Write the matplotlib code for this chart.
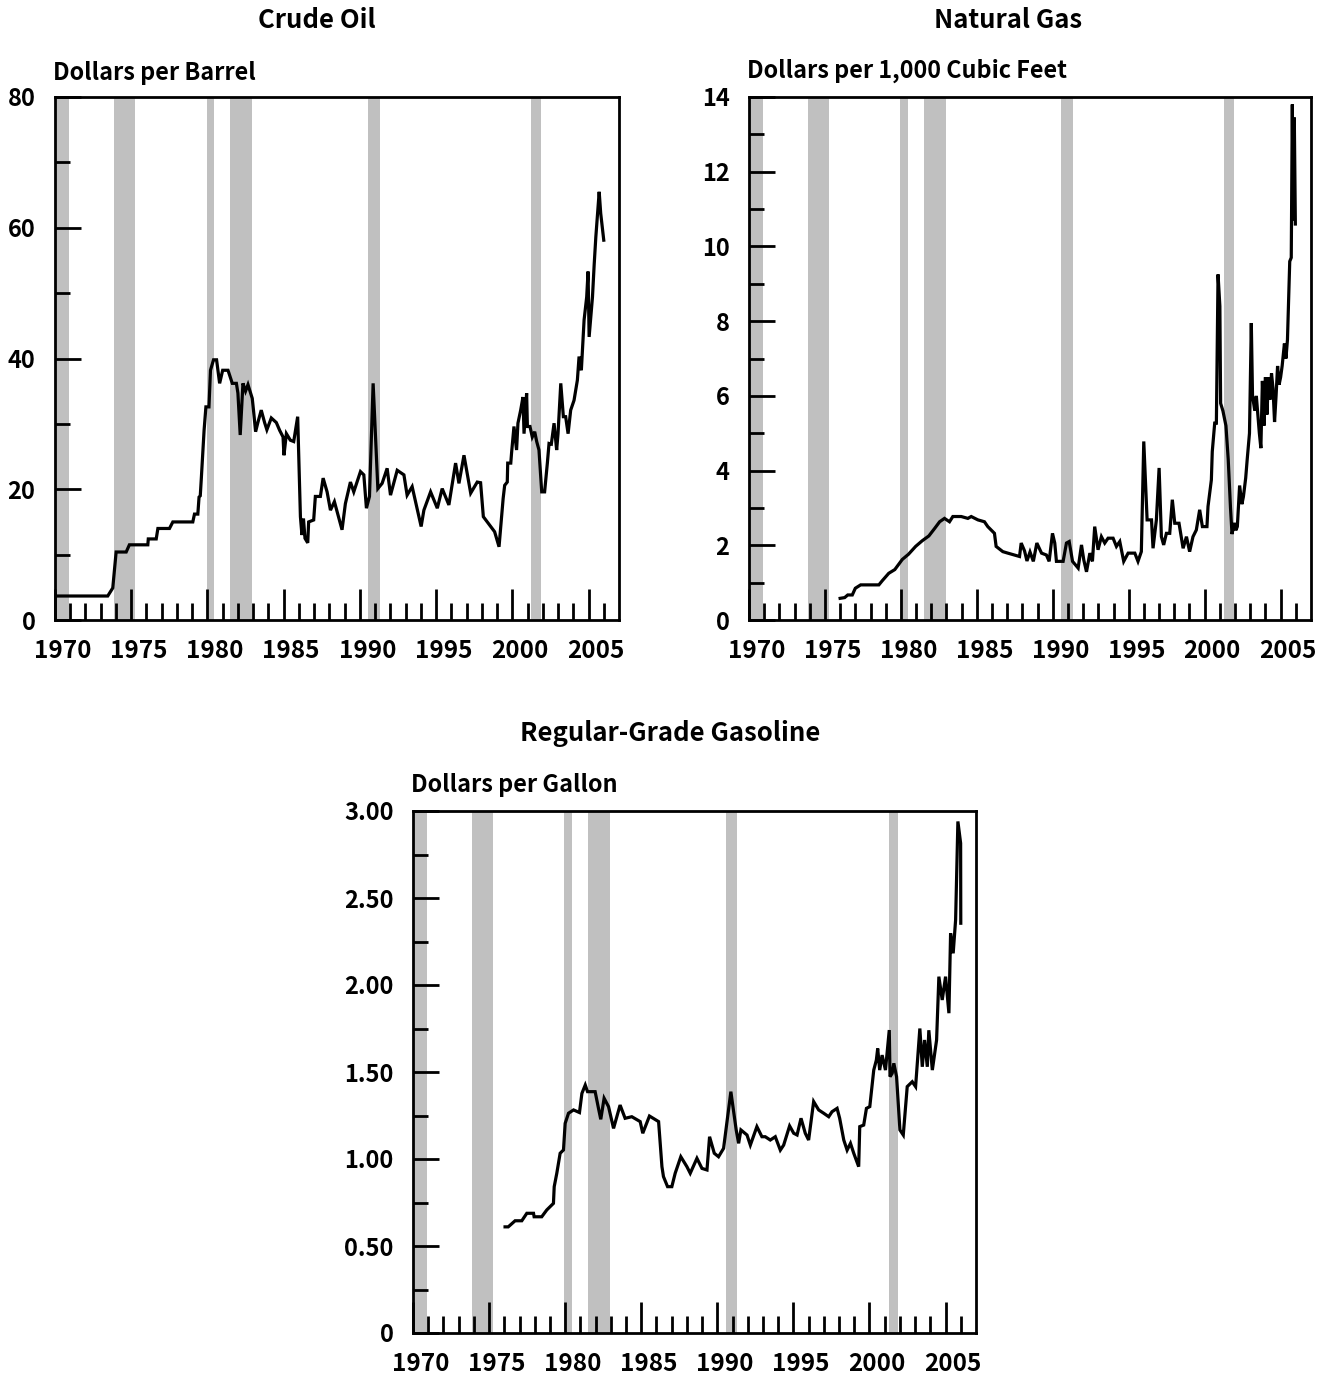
import matplotlib
matplotlib.use("Agg")
import matplotlib.pyplot as plt
from matplotlib.transforms import ScaledTranslation

plt.rcParams['font.family'] = ['Noto Sans CJK KR', 'DejaVu Sans']
plt.rcParams['font.weight'] = 'bold'

# recession periods (start, end) in decimal years
recessions = [(1969.9, 1970.9), (1973.9, 1975.25), (1979.95, 1980.45),
              (1981.5, 1982.95), (1990.55, 1991.3), (2001.25, 2001.9)]

oil_year = [1970.0, 1973.46, 1973.79, 1974.01, 1974.67, 1974.88, 1976.09, 1976.12, 1976.64,
            1976.75, 1977.51, 1977.73, 1979.04, 1979.15, 1979.37, 1979.45, 1979.53, 1979.6,
            1979.78, 1979.9, 1980.1, 1980.2, 1980.4, 1980.6, 1980.8, 1981.0, 1981.35, 1981.63,
            1981.9, 1982.0, 1982.15, 1982.33, 1982.5, 1982.66, 1982.94, 1983.03, 1983.16,
            1983.32, 1983.53, 1983.75, 1983.9, 1984.19, 1984.52, 1984.74, 1984.96, 1985.02,
            1985.18, 1985.44, 1985.66, 1985.92, 1986.1, 1986.2, 1986.3, 1986.4, 1986.58,
            1986.64, 1986.97, 1987.08, 1987.41, 1987.59, 1987.85, 1988.07, 1988.33, 1988.83,
            1989.05, 1989.38, 1989.6, 1990.04, 1990.26, 1990.43, 1990.63, 1990.87, 1991.18,
            1991.46, 1991.79, 1992.01, 1992.45, 1992.89, 1993.1, 1993.43, 1994.02, 1994.2,
            1994.64, 1995.08, 1995.4, 1995.84, 1996.28, 1996.5, 1996.83, 1997.27, 1997.7,
            1997.92, 1998.1, 1998.58, 1998.84, 1999.13, 1999.4, 1999.5, 1999.67, 1999.7,
            1999.9, 1999.95, 2000.11, 2000.28, 2000.37, 2000.55, 2000.7, 2000.77, 2000.94,
            2000.99, 2001.16, 2001.31, 2001.47, 2001.6, 2001.75, 2001.93, 2002.12, 2002.3,
            2002.41, 2002.56, 2002.74, 2002.91, 2003.0, 2003.18, 2003.35, 2003.5, 2003.66,
            2003.83, 2004.05, 2004.27, 2004.38, 2004.53, 2004.71, 2004.88, 2004.97, 2005.04,
            2005.26, 2005.37, 2005.48, 2005.7, 2005.8, 2006.0]
oil_price = [3.67, 3.67, 4.9, 10.4, 10.4, 11.5, 11.5, 12.4, 12.4,
             14.0, 14.0, 15.0, 15.0, 16.2, 16.2, 18.8, 19.0, 21.7,
             29.0, 32.6, 32.6, 38.2, 39.8, 39.8, 36.2, 38.2, 38.2, 36.2,
             36.2, 34.7, 28.3, 36.2, 35.0, 36.0, 33.9, 31.9, 28.8,
             30.3, 32.1, 30.2, 29.1, 30.9, 30.2, 29.0, 28.0, 25.2,
             28.5, 27.5, 27.3, 31.1, 15.8, 13.0, 15.5, 12.5, 11.8,
             15.0, 15.3, 18.9, 18.9, 21.7, 19.6, 16.8, 18.1, 13.8,
             17.8, 21.1, 19.6, 22.7, 22.2, 17.1, 18.9, 36.2, 20.1,
             20.9, 23.2, 19.1, 22.9, 22.2, 19.1, 20.4, 14.3, 16.8,
             19.6, 17.1, 20.1, 17.6, 24.0, 20.9, 25.2, 19.4, 21.1,
             21.0, 15.8, 14.3, 13.5, 11.2, 18.6, 20.6, 21.1, 24.0,
             24.0, 25.5, 29.6, 26.0, 30.1, 32.1, 34.1, 28.5, 34.7,
             29.6, 29.6, 28.0, 28.8, 27.3, 26.0, 19.6, 19.6, 24.0,
             27.0, 26.9, 30.1, 26.0, 28.5, 36.2, 31.1, 31.1, 28.5,
             32.1, 33.6, 36.7, 40.3, 38.2, 45.9, 49.4, 53.3, 43.3,
             49.4, 54.3, 58.6, 65.5, 62.2, 58.1]

gas_year = [1976.0, 1976.3, 1976.5, 1976.8, 1977.0, 1977.35, 1978.55, 1978.77, 1979.2, 1979.6,
            1980.09, 1980.5, 1980.97, 1981.4, 1981.84, 1982.22, 1982.55, 1982.87, 1983.2,
            1983.42, 1983.97, 1984.41, 1984.63, 1985.07, 1985.5, 1985.72, 1986.16, 1986.27,
            1986.71, 1987.04, 1987.48, 1987.81, 1987.92, 1988.14, 1988.3, 1988.5, 1988.72,
            1988.95, 1989.26, 1989.58, 1989.76, 1989.98, 1990.13, 1990.24, 1990.68, 1990.9,
            1991.08, 1991.3, 1991.67, 1991.89, 1992.04, 1992.22, 1992.44, 1992.61, 1992.76,
            1992.98, 1993.2, 1993.42, 1993.64, 1993.97, 1994.19, 1994.41, 1994.67, 1994.96,
            1995.4, 1995.61, 1995.83, 1995.99, 1996.21, 1996.5, 1996.6, 1996.82, 1997.0,
            1997.15, 1997.3, 1997.48, 1997.7, 1997.87, 1998.03, 1998.31, 1998.58, 1998.8,
            1999.01, 1999.23, 1999.45, 1999.67, 1999.85, 2000.15, 2000.22, 2000.44, 2000.5,
            2000.66, 2000.77, 2000.88, 2001.0, 2001.05, 2001.2, 2001.4, 2001.55, 2001.7,
            2001.8, 2001.95, 2002.05, 2002.15, 2002.3, 2002.45, 2002.55, 2002.7, 2002.8,
            2002.95, 2003.07, 2003.15, 2003.3, 2003.4, 2003.5, 2003.6, 2003.7, 2003.8,
            2003.9, 2004.0, 2004.1, 2004.2, 2004.3, 2004.4, 2004.5, 2004.6, 2004.7, 2004.8,
            2004.9, 2005.0, 2005.1, 2005.25, 2005.35, 2005.45, 2005.6, 2005.7, 2005.77,
            2005.83, 2005.9, 2005.97]
gas_price = [0.58, 0.6, 0.67, 0.67, 0.85, 0.94, 0.94, 1.05, 1.25, 1.35,
             1.62, 1.76, 1.97, 2.12, 2.25, 2.45, 2.63, 2.72, 2.63,
             2.77, 2.77, 2.72, 2.77, 2.68, 2.63, 2.5, 2.32, 1.97,
             1.83, 1.79, 1.74, 1.7, 2.06, 1.85, 1.58, 1.82, 1.57,
             2.06, 1.79, 1.74, 1.57, 2.32, 2.06, 1.57, 1.57, 2.06,
             2.1, 1.57, 1.39, 2.01, 1.61, 1.29, 1.79, 1.57, 2.5,
             1.88, 2.23, 2.06, 2.19, 2.19, 1.97, 2.1, 1.57, 1.79,
             1.79, 1.57, 1.83, 4.78, 2.68, 2.68, 1.92, 2.68, 4.07,
             2.23, 2.01, 2.32, 2.32, 3.22, 2.59, 2.59, 1.92, 2.23,
             1.83, 2.23, 2.41, 2.95, 2.5, 2.5, 3.04, 3.75, 4.51,
             5.27, 5.27, 9.25, 8.4, 5.8, 5.6, 5.2, 4.3, 3.0,
             2.3, 2.6, 2.4, 2.5, 3.6, 3.1, 3.3, 3.8, 4.3,
             5.0, 7.95, 6.0, 5.6, 6.0, 5.5, 5.0, 4.6, 6.4,
             5.2, 6.5, 5.5, 6.5, 5.9, 6.6, 6.2, 5.3, 6.0, 6.8,
             6.3, 6.5, 6.8, 7.4, 7.0, 7.5, 9.6, 9.7, 13.8,
             10.7, 13.45, 10.6]

gasoline_year = [1976.05, 1976.26, 1976.71, 1977.15, 1977.48, 1977.92, 1977.96, 1978.46, 1978.79,
                 1979.23, 1979.28, 1979.45, 1979.67, 1979.89, 1980.0, 1980.22, 1980.55, 1980.94,
                 1981.1, 1981.32, 1981.47, 1981.97, 1982.19, 1982.34, 1982.56, 1982.85, 1983.18,
                 1983.61, 1983.94, 1984.38, 1984.93, 1985.1, 1985.54, 1986.14, 1986.36, 1986.46,
                 1986.73, 1987.01, 1987.23, 1987.6, 1988.0, 1988.22, 1988.66, 1988.99, 1989.32,
                 1989.49, 1989.8, 1990.08, 1990.41, 1990.89, 1991.24, 1991.4, 1991.55, 1991.95,
                 1992.17, 1992.6, 1992.93, 1993.15, 1993.48, 1993.81, 1994.14, 1994.36, 1994.75,
                 1995.02, 1995.24, 1995.5, 1995.78, 1996.0, 1996.33, 1996.66, 1996.99, 1997.32,
                 1997.54, 1997.87, 1998.04, 1998.31, 1998.53, 1998.75, 1998.97, 1999.29, 1999.36,
                 1999.62, 1999.8, 2000.02, 2000.28, 2000.45, 2000.54, 2000.67, 2000.83, 2001.05,
                 2001.3, 2001.35, 2001.49, 2001.6, 2001.78, 2002.0, 2002.22, 2002.48, 2002.81,
                 2003.03, 2003.31, 2003.47, 2003.62, 2003.8, 2003.9, 2004.13, 2004.41, 2004.56,
                 2004.78, 2005.0, 2005.22, 2005.33, 2005.5, 2005.66, 2005.81, 2005.99, 2006.0]
gasoline_price = [0.61, 0.61, 0.645, 0.645, 0.688, 0.688, 0.668, 0.668, 0.707,
                  0.745, 0.841, 0.918, 1.033, 1.052, 1.205, 1.263, 1.282, 1.267,
                  1.377, 1.425, 1.387, 1.387, 1.291, 1.228, 1.349, 1.301, 1.176,
                  1.31, 1.234, 1.243, 1.215, 1.148, 1.247, 1.215, 0.956, 0.899,
                  0.841, 0.841, 0.918, 1.013, 0.956, 0.918, 1.004, 0.946, 0.937,
                  1.128, 1.033, 1.013, 1.061, 1.387, 1.167, 1.09, 1.167, 1.138,
                  1.08, 1.186, 1.128, 1.128, 1.109, 1.128, 1.051, 1.08, 1.19,
                  1.148, 1.138, 1.234, 1.148, 1.109, 1.33, 1.282, 1.263, 1.243,
                  1.272, 1.291, 1.234, 1.109, 1.051, 1.09, 1.032, 0.956, 1.186,
                  1.195, 1.291, 1.301, 1.511, 1.568, 1.635, 1.511, 1.597, 1.511,
                  1.741, 1.473, 1.492, 1.55, 1.473, 1.167, 1.138, 1.416, 1.444,
                  1.416, 1.75, 1.53, 1.684, 1.53, 1.74, 1.511, 1.684, 2.048,
                  1.914, 2.048, 1.838, 2.297, 2.182, 2.374, 2.94, 2.815, 2.355]

year_labels = list(range(1970, 2006, 5))

W, H = 1333, 1376
fig = plt.figure(figsize=(W / 100, H / 100), dpi=100)


def make_panel(rect, years, prices, ymax, ymajor, yminor, ylabels):
    ax = fig.add_axes([rect[0] / W, 1 - rect[3] / H, (rect[2] - rect[0]) / W, (rect[3] - rect[1]) / H])
    for s, e in recessions:
        ax.axvspan(s, e, color='#c0c0c0', lw=0, zorder=0)
    ax.plot(years, prices, color='black', lw=2.3, solid_joinstyle='miter', zorder=3)
    ax.set_xlim(1970, 2007)
    ax.set_ylim(0, ymax)
    ax.set_xticks(year_labels)
    ax.set_xticklabels([str(y) for y in year_labels])
    ax.set_xticks(range(1970, 2007), minor=True)
    ax.set_yticks(ymajor)
    ax.set_yticklabels(ylabels)
    ax.set_yticks(yminor, minor=True)
    ax.tick_params(axis='x', which='major', direction='in', length=22, width=2, labelsize=17.5, pad=14)
    ax.tick_params(axis='x', which='minor', direction='in', length=12, width=2)
    ax.tick_params(axis='y', which='major', direction='in', length=19, width=2, labelsize=17, pad=14)
    ax.tick_params(axis='y', which='minor', direction='in', length=11, width=2)
    # year labels sit in the middle of the year
    shift = ScaledTranslation(0.076, 0, fig.dpi_scale_trans)
    for lab in ax.get_xticklabels():
        lab.set_transform(lab.get_transform() + shift)
    for sp in ax.spines.values():
        sp.set_linewidth(2)
    return ax


make_panel((55, 97, 619, 620), oil_year, oil_price, 80,
           [0, 20, 40, 60, 80], [10, 30, 50, 70], ['0', '20', '40', '60', '80'])
make_panel((749, 97, 1311, 620), gas_year, gas_price, 14,
           list(range(0, 15, 2)), list(range(1, 14, 2)), [str(v) for v in range(0, 15, 2)])
make_panel((413, 811, 976, 1333), gasoline_year, gasoline_price, 3.0,
           [0, 0.5, 1.0, 1.5, 2.0, 2.5, 3.0], [0.25, 0.75, 1.25, 1.75, 2.25, 2.75],
           ['0', '0.50', '1.00', '1.50', '2.00', '2.50', '3.00'])

fig.text(317 / W, 1 - 21 / H, 'Crude Oil', ha='center', va='center', fontsize=18.5)
fig.text(1008 / W, 1 - 21 / H, 'Natural Gas', ha='center', va='center', fontsize=18.5)
fig.text(670 / W, 1 - 734 / H, 'Regular-Grade Gasoline', ha='center', va='center', fontsize=18.5)
fig.text(53 / W, 1 - 73 / H, 'Dollars per Barrel', ha='left', va='center', fontsize=16.8)
fig.text(747 / W, 1 - 71 / H, 'Dollars per 1,000 Cubic Feet', ha='left', va='center', fontsize=16.8)
fig.text(411 / W, 1 - 785 / H, 'Dollars per Gallon', ha='left', va='center', fontsize=16.8)

fig.savefig('out.png', dpi=100)
